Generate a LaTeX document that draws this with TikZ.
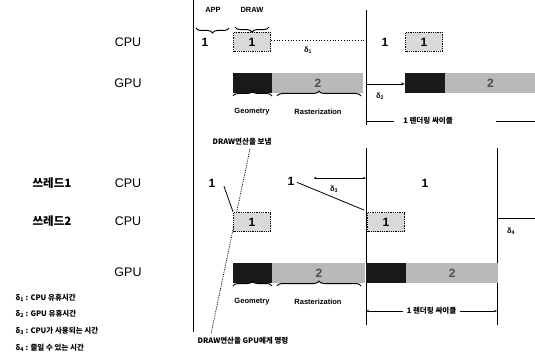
\documentclass[tikz,border=0pt]{standalone}
\usepackage{fontspec}
\setmainfont{Liberation Sans}
\newfontfamily\kr{Noto Sans CJK KR}
\usetikzlibrary{arrows.meta,decorations.pathreplacing,calc,positioning}

\tikzset{
  lbl/.style={font=\fontsize{12.5}{13}\selectfont},
  krlbl/.style={font=\kr\bfseries\fontsize{11.5}{12}\selectfont},
  tiny/.style={font=\bfseries\fontsize{7.5}{8}\selectfont},
  krtiny/.style={font=\kr\bfseries\fontsize{7.5}{8}\selectfont},
  one/.style={font=\bfseries\fontsize{12}{13}\selectfont, inner sep=1pt},
  cpubox/.style={draw, thick, densely dotted, fill=gray!30, minimum width=37pt,
    minimum height=19pt, inner sep=0pt, font=\bfseries\fontsize{12}{13}\selectfont},
  geo/.style={fill=black!90, minimum height=20pt, inner sep=0pt},
  ras/.style={fill=gray!55, minimum height=20pt, inner sep=0pt,
    font=\bfseries\fontsize{12}{13}\selectfont, text=black!70},
  bar/.style={line width=0.9pt},
  upbrace/.style={decorate, decoration={brace, mirror, amplitude=5pt}, line width=1pt},
  dnbrace/.style={decorate, decoration={brace, amplitude=5pt}, line width=1pt},
  delta/.style={font=\bfseries\fontsize{7.5}{8}\selectfont},
}

\begin{document}
\begin{tikzpicture}[x=1pt,y=-1pt]
  \useasboundingbox (0,0) rectangle (535,358);

  % frame lines
  \draw[bar] (193,0) -- (193,332);
  \draw[bar] (366,10) -- (366,125);
  \draw[bar] (366,148) -- (366,325);
  \draw[bar] (497,148) -- (497,325);

  % row labels
  \node[lbl] (cpu) at (128,42) {CPU};
  \node[lbl] (gpu) at (128,83) {GPU};
  \node[krlbl] (th1) at (52,183) {쓰레드1};
  \node[lbl] (cpu1) at (128,183) {CPU};
  \node[krlbl] (th2) at (52,221) {쓰레드2};
  \node[lbl] (cpu2) at (128,221) {CPU};
  \node[lbl] (gpu2) at (128,272) {GPU};

  % single thread, CPU
  \node[tiny] (app) at (213,10) {APP};
  \node[tiny] (drawlbl) at (252,10) {DRAW};
  \node[one] (app1) at (205,42) {1};
  \node[cpubox] (drw1) at (252,42) {1};
  \draw[upbrace] (196,28) -- (229,28);
  \draw[upbrace] ([xshift=2pt,yshift=5pt]drw1.north west) -- ([xshift=-2pt,yshift=5pt]drw1.north east);
  \node[one] (app2) at (385,42) {1};
  \node[cpubox] (drw2) at (424,42) {1};
  \coordinate (d1end) at (366,40);
  \draw[thick, dotted] (drw1.east |- d1end) -- (d1end);
  \node[delta] (d1) at (308,50) {δ\textsubscript{1}};

  % single thread, GPU
  \node[geo, minimum width=39pt] (geo1) at (252.5,83) {};
  \node[ras, minimum width=91pt, right=0pt of geo1] (ras1) {2};
  \node[geo, minimum width=40pt] (geo2) at (425,83) {};
  \node[ras, minimum width=90pt, right=0pt of geo2] (ras2) {2};
  \coordinate (d2start) at (366,84);
  \draw[thick, -{Stealth[length=4pt]}] (d2start) -- (geo2.west |- d2start);
  \node[delta] (d2) at (380,96) {δ\textsubscript{2}};
  \draw[dnbrace] (233,96) -- (272,96);
  \draw[dnbrace] (277,96) -- (361,96);
  \node[tiny] (geolbl1) at (252,112) {Geometry};
  \node[tiny] (raslbl1) at (318,112) {Rasterization};

  % rendering cycle, top
  \node[krtiny] (cyc1) at (428,121) {1 렌더링 싸이클};
  \coordinate (cyc1l) at (366,121);
  \coordinate (cyc1r) at (535,121);
  \draw[thick] (cyc1l) -- ([xshift=-6pt]cyc1.west);
  \draw[thick] ([xshift=40pt]cyc1.east) -- (cyc1r);

  % two threads
  \node[krtiny] (send) at (242,142) {DRAW연산을 보냄};
  \node[krtiny] (cmd) at (243,341) {DRAW연산을 GPU에게 명령};
  \draw[thick, densely dotted] ([xshift=8pt]send.south) -- ([xshift=-32pt]cmd.north);

  \node[one] (t1a) at (212,183) {1};
  \node[one] (t1b) at (291,181) {1};
  \node[one] (t1c) at (425,183) {1};
  \node[cpubox] (t2a) at (252,222) {1};
  \node[cpubox] (t2b) at (386,222) {1};
  \draw[thick] ([xshift=12pt,yshift=2pt]t1a.south) -- (t2a.north west);
  \draw[thick] ([xshift=6pt,yshift=4pt]t1b.south) -- ([xshift=-3pt,yshift=2pt]t2b.north west);
  \coordinate (d3end) at (366,178);
  \draw[thick, {Stealth[length=3pt]}-{Stealth[length=3pt]}] ([xshift=18pt]t1b.east |- d3end) -- (d3end);
  \node[delta] (d3) at (334,189) {δ\textsubscript{3}};
  \coordinate (d4start) at (497,218);
  \coordinate (d4end) at (535,218);
  \draw[thick] (d4start) -- (d4end);
  \node[delta] (d4) at (511,231) {δ\textsubscript{4}};

  % two threads, GPU
  \node[geo, minimum width=39pt] (geo3) at (252.5,273) {};
  \node[ras, minimum width=93pt, right=0pt of geo3] (ras3) {2};
  \node[geo, minimum width=40pt, right=0pt of ras3] (geo4) {};
  \node[ras, minimum width=92pt, right=0pt of geo4] (ras4) {2};
  \draw[dnbrace] (233,286) -- (272,286);
  \draw[dnbrace] (277,286) -- (361,286);
  \node[tiny] (geolbl2) at (252,302) {Geometry};
  \node[tiny] (raslbl2) at (318,302) {Rasterization};

  % rendering cycle, bottom
  \coordinate (cyc2l) at (366,311);
  \coordinate (cyc2r) at (497,311);
  \draw[thick, {Stealth[length=3pt]}-{Stealth[length=3pt]}] (cyc2l) -- (cyc2r)
    node[midway, krtiny, fill=white] (cyc2) {1 렌더링 싸이클};

  % legend
  \node[krtiny, anchor=west] (leg1) at (12,298) {δ\textsubscript{1} : CPU 유휴시간};
  \node[krtiny, anchor=west] (leg2) at (12,314) {δ\textsubscript{2} : GPU 유휴시간};
  \node[krtiny, anchor=west] (leg3) at (12,331) {δ\textsubscript{3} : CPU가 사용되는 시간};
  \node[krtiny, anchor=west] (leg4) at (12,348) {δ\textsubscript{4} : 줄일 수 있는 시간};
\end{tikzpicture}
\end{document}
